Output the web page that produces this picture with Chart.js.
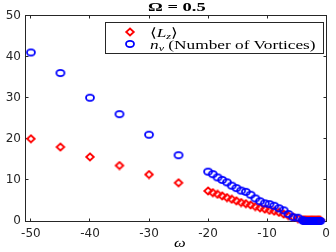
<!DOCTYPE html>
<html>
<head>
<meta charset="utf-8">
<script src="https://cdn.jsdelivr.net/npm/chart.js@4"></script>
<style>
  body { margin: 0; background: #fff; }
  #wrap { position: relative; width: 336px; height: 252px; }
  .txt { position: absolute; font-family: "Liberation Serif", serif; color: #000;
         white-space: nowrap; line-height: 1; transform-origin: 0 50%; transform: scaleX(1.27); }
  .txt i { font-style: italic; }
  .txt sub { font-size: 70%; vertical-align: -0.25em; line-height: 0; }
  #legend { position: absolute; left: 105px; top: 22px; width: 219px; height: 32px;
            box-sizing: border-box; border: 1px solid #262626; background: #fff; }
  .mk { position: absolute; }
</style>
</head>
<body>
<div id="wrap">
  <canvas id="chart"></canvas>
  <div class="txt" id="title" style="left:148px;top:0px;font-size:13px;font-weight:bold;transform:scaleX(1.42);">&Omega; = 0.5</div>
  <div id="legend"></div>
  <div class="txt" style="left:150px;top:25.5px;font-size:13px;transform:scaleX(1.33);">&#x27E8;<i>L</i><sub><i>z</i></sub>&#x27E9;</div>
  <div class="txt" style="left:150px;top:37.5px;font-size:13px;transform:scaleX(1.33);"><i>n</i><sub><i>v</i></sub> (Number of Vortices)</div>
  <div class="txt" style="left:174px;top:236px;font-size:13px;"><i>&omega;</i></div>
</div>
<script>
// omega values
const omega = [
  -50, -45, -40, -35, -30, -25,
  -20, -19.2, -18.4, -17.6, -16.8, -16, -15.2, -14.4, -13.6, -12.8, -12,
  -11.2, -10.4, -9.6, -8.8, -8, -7.2, -6.4, -5.6, -4.8, -4,
  -3.8, -3.6, -3.4, -3.2, -3, -2.8, -2.6, -2.4, -2.2, -2, -1.8, -1.6, -1.4, -1.2, -1
];
// <L_z>
const lz = [
  20, 18, 15.6, 13.5, 11.3, 9.3,
  7.3, 6.9, 6.5, 6.1, 5.7, 5.3, 4.9, 4.5, 4.2, 3.9, 3.5,
  3.2, 2.9, 2.6, 2.4, 2.1, 1.7, 1.3, 1.0, 0.6, 0.3,
  0.2, 0.2, 0.2, 0.2, 0.2, 0.2, 0.2, 0.2, 0.2, 0.2, 0.2, 0.2, 0.2, 0.2, 0.2
];
// n_v (number of vortices)
const nv = [
  41, 36, 30, 26, 21, 16,
  12, 11.4, 10.6, 10, 9.4, 8.6, 8, 7.4, 7.1, 6.4, 5.5,
  4.8, 4.3, 4.1, 3.7, 3.1, 2.6, 1.7, 0.9, 0.8, 0.2,
  0, 0, 0, 0, 0, 0, 0, 0, 0, 0, 0, 0, 0, 0, 0
];
const xTicks = [-50, -40, -30, -20, -10, 0];
const yTicks = [0, 10, 20, 30, 40, 50];

const RED = '#ff0000', BLUE = '#0000ff', AXIS = '#262626';

// the picture is a bit stretched sideways, so markers are too
function makeMarker(kind, color) {
  const c = document.createElement('canvas');
  c.width = 12; c.height = 10;
  const g = c.getContext('2d');
  g.strokeStyle = color;
  g.lineWidth = 1.8;
  g.beginPath();
  if (kind === 'diamond') {
    g.moveTo(6, 1.5); g.lineTo(9.8, 5); g.lineTo(6, 8.5); g.lineTo(2.2, 5); g.closePath();
  } else {
    g.ellipse(6, 5, 4, 3.1, 0, 0, Math.PI * 2);
  }
  g.stroke();
  return c;
}
const diamond = makeMarker('diamond', RED);
const ring = makeMarker('circle', BLUE);

// legend markers
[['diamond', RED, 32], ['circle', BLUE, 44]].forEach(([kind, col, cy]) => {
  const c = makeMarker(kind, col);
  c.className = 'mk';
  c.style.left = (129.5 - 6) + 'px';
  c.style.top = (cy - 5) + 'px';
  document.getElementById('wrap').appendChild(c);
});

const boxPlugin = {
  id: 'box',
  beforeDatasetsDraw(chart) {
    const { ctx, chartArea: a, scales: { x, y } } = chart;
    const L = Math.floor(a.left) + 0.5, R = Math.floor(a.right) + 0.5;
    const T = Math.floor(a.top) + 0.5, B = Math.floor(a.bottom) + 0.5;
    ctx.save();
    ctx.strokeStyle = AXIS;
    ctx.lineWidth = 1;
    ctx.strokeRect(L, T, R - L, B - T);
    ctx.beginPath();
    xTicks.forEach(v => {
      const px = Math.floor(x.getPixelForValue(v)) + 0.5;
      ctx.moveTo(px, B); ctx.lineTo(px, B - 3);
      ctx.moveTo(px, T); ctx.lineTo(px, T + 3);
    });
    yTicks.forEach(v => {
      const py = Math.floor(y.getPixelForValue(v)) + 0.5;
      ctx.moveTo(L, py); ctx.lineTo(L + 3, py);
      ctx.moveTo(R, py); ctx.lineTo(R - 3, py);
    });
    ctx.stroke();
    ctx.restore();
  }
};

const tickFont = { family: 'DejaVu Sans', size: 12 };

new Chart(document.getElementById('chart'), {
  type: 'scatter',
  data: {
    datasets: [
      { label: '<L_z>', data: omega.map((w, i) => ({ x: w, y: lz[i] })),
        pointStyle: diamond, order: 2, clip: false },
      { label: 'n_v (Number of Vortices)', data: omega.map((w, i) => ({ x: w, y: nv[i] })),
        pointStyle: ring, order: 1, clip: false }
    ]
  },
  options: {
    responsive: true,
    maintainAspectRatio: false,
    animation: false,
    layout: { padding: { left: 0, right: 5, top: 15.5, bottom: 0 } },
    plugins: { legend: { display: false }, tooltip: { enabled: false }, title: { display: false } },
    scales: {
      x: {
        type: 'linear', min: -51, max: 0,
        afterBuildTicks: s => { s.ticks = xTicks.map(v => ({ value: v })); },
        afterFit: s => { s.height = 31; },
        grid: { display: false, drawTicks: false },
        border: { display: false },
        ticks: { font: tickFont, color: AXIS, padding: 6, maxRotation: 0 }
      },
      y: {
        type: 'linear', min: 0, max: 50,
        afterBuildTicks: s => { s.ticks = yTicks.map(v => ({ value: v })); },
        afterFit: s => { s.width = 25; },
        grid: { display: false, drawTicks: false },
        border: { display: false },
        ticks: { font: tickFont, color: AXIS, padding: 4 }
      }
    }
  },
  plugins: [boxPlugin]
});
</script>
</body>
</html>
